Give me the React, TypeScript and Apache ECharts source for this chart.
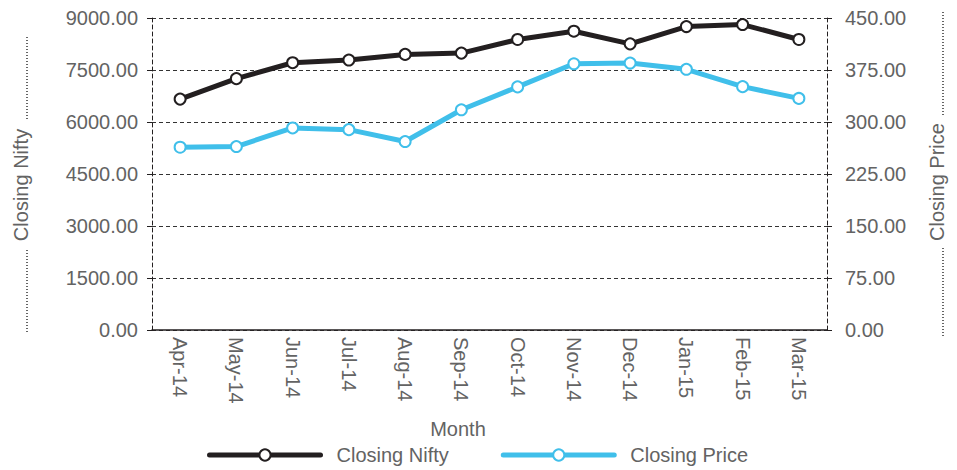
import React, { useEffect, useRef } from "react";
import * as echarts from "echarts";

const months = ["Apr-14", "May-14", "Jun-14", "Jul-14", "Aug-14", "Sep-14", "Oct-14", "Nov-14", "Dec-14", "Jan-15", "Feb-15", "Mar-15"];
const closingNifty = [6660, 7251, 7710, 7787, 7950, 7988, 8380, 8619, 8254, 8753, 8811, 8380];
const closingPrice = [263.6, 264.6, 291.4, 289, 271.8, 317.6, 350.6, 384, 385, 376, 351, 334];

const FONT = "Liberation Sans";
const TXT = "#636363";
const BLACK = "#231f20";
const BLUE = "#40bfea";

export default function App() {
  const ref = useRef<HTMLDivElement>(null);
  useEffect(() => {
    if (!ref.current) return;
    const chart = echarts.init(ref.current, null, { renderer: "svg" });
    const dotted = { stroke: "#333", lineWidth: 1.5, lineDash: [1, 2] };
    chart.setOption({
      animation: false,
      textStyle: { fontFamily: FONT },
      grid: { left: 152, right: 130, top: 18, bottom: 140 },
      legend: {
        left: 207,
        top: 445,
        padding: 0,
        itemWidth: 111,
        itemHeight: 14,
        itemGap: 52,
        lineStyle: { width: 5, cap: "round" },
        textStyle: { fontSize: 20, color: TXT, fontFamily: FONT, padding: [0, 0, 0, 11] },
        data: ["Closing Nifty", "Closing Price"],
      },
      xAxis: {
        type: "category",
        data: months,
        boundaryGap: true,
        axisLine: { lineStyle: { color: BLACK, width: 1.5 } },
        axisTick: { length: 5, lineStyle: { color: BLACK } },
        axisLabel: { rotate: -90, fontSize: 20, color: TXT, margin: 7, fontFamily: FONT, interval: 0 },
        splitLine: { show: false },
      },
      yAxis: [
        {
          type: "value",
          min: 0,
          max: 9000,
          interval: 1500,
          axisLine: { show: true, lineStyle: { color: BLACK, type: [4, 3] } },
          axisTick: { show: true, length: 5, lineStyle: { color: BLACK } },
          axisLabel: { fontSize: 20, color: TXT, margin: 14, fontFamily: FONT, formatter: (v: number) => v.toFixed(2) },
          splitLine: { show: true, lineStyle: { color: "#333", type: [4, 3] } },
        },
        {
          type: "value",
          min: 0,
          max: 450,
          interval: 75,
          axisLine: { show: true, lineStyle: { color: BLACK, type: [4, 3] } },
          axisTick: { show: true, length: 5, lineStyle: { color: BLACK } },
          axisLabel: { fontSize: 20, color: TXT, margin: 18, fontFamily: FONT, formatter: (v: number) => v.toFixed(2) },
          splitLine: { show: false },
        },
      ],
      series: [
        {
          name: "Closing Nifty",
          type: "line",
          data: closingNifty,
          yAxisIndex: 0,
          symbol: "emptyCircle",
          symbolSize: 11,
          color: BLACK,
          lineStyle: { color: BLACK, width: 5 },
          itemStyle: { color: BLACK, borderWidth: 3 },
          z: 3,
        },
        {
          name: "Closing Price",
          type: "line",
          data: closingPrice,
          yAxisIndex: 1,
          symbol: "emptyCircle",
          symbolSize: 11,
          color: BLUE,
          lineStyle: { color: BLUE, width: 5 },
          itemStyle: { color: BLUE, borderWidth: 3 },
          z: 2,
        },
      ],
      graphic: [
        { type: "text", x: 458, y: 429, style: { text: "Month", fontSize: 20, fill: TXT, fontFamily: FONT, align: "center", verticalAlign: "middle" } },
        { type: "text", x: 21, y: 185, rotation: Math.PI / 2, style: { text: "Closing Nifty", fontSize: 20, fill: TXT, fontFamily: FONT, align: "center", verticalAlign: "middle" } },
        { type: "text", x: 937, y: 182, rotation: Math.PI / 2, style: { text: "Closing Price", fontSize: 20, fill: TXT, fontFamily: FONT, align: "center", verticalAlign: "middle" } },
        { type: "line", shape: { x1: 27, y1: 37, x2: 27, y2: 120 }, style: dotted },
        { type: "line", shape: { x1: 27, y1: 250, x2: 27, y2: 333 }, style: dotted },
        { type: "line", shape: { x1: 943, y1: 12, x2: 943, y2: 117 }, style: dotted },
        { type: "line", shape: { x1: 943, y1: 248, x2: 943, y2: 337 }, style: dotted },
      ],
    });
    return () => chart.dispose();
  }, []);
  return <div ref={ref} style={{ position: "absolute", left: 0, top: 0, width: 957, height: 470 }} />;
}
